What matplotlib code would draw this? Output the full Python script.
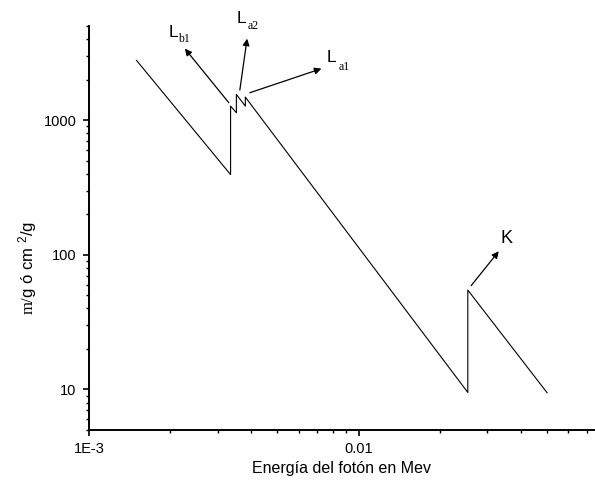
import matplotlib
matplotlib.use("Agg")
import matplotlib.pyplot as plt
from matplotlib.ticker import LogLocator, FixedLocator, FixedFormatter, NullFormatter

plt.rcParams['font.family'] = ['Liberation Sans', 'DejaVu Sans']
plt.rcParams['mathtext.fontset'] = 'custom'
plt.rcParams['mathtext.rm'] = 'Liberation Serif'
plt.rcParams['mathtext.sf'] = 'Liberation Sans'
plt.rcParams['mathtext.it'] = 'Liberation Sans'

# photon energy (MeV) and mass attenuation coefficient (cm^2/g)
energy = [0.0015, 0.00335, 0.00335, 0.00352, 0.00352, 0.00380, 0.00380, 0.0254, 0.0254, 0.050]
mu_rho = [2780, 394, 1271, 1135, 1553, 1271, 1483, 9.5, 54.7, 9.45]

# edge labels: main text, subscript, arrow tail, arrow head, text position, subscript position
edge_main = ["L", "L", "L", "K"]
edge_sub = ["b1", "a2", "a1", ""]
arrow_tail = [(0.003301, 1346), (0.003625, 1671), (0.003948, 1598), (0.02614, 59.0)]
arrow_head = [(0.002268, 3396), (0.003857, 4029), (0.007276, 2412), (0.03308, 106.2)]
text_pos = [(0.002064, 4487), (0.003687, 5703), (0.007943, 2901), (0.03548, 133)]
sub_pos = [(0.002249, 3981), (0.00405, 4972), (0.00887, 2465), None]

fig = plt.figure(figsize=(5.95, 4.82), dpi=100)
ax = fig.add_axes([0.1496, 0.1079, 0.8484, 0.8381])

ax.plot(energy, mu_rho, color='black', lw=0.8)

ax.set_xscale('log')
ax.set_yscale('log')
ax.set_xlim(1e-3, 0.0745)
ax.set_ylim(5, 5000)

ax.spines['top'].set_visible(False)
ax.spines['right'].set_visible(False)
for s in ('left', 'bottom'):
    ax.spines[s].set_linewidth(1.4)

ax.xaxis.set_major_locator(FixedLocator([1e-3, 1e-2]))
ax.xaxis.set_major_formatter(FixedFormatter(["1E-3", "0.01"]))
ax.xaxis.set_minor_locator(LogLocator(base=10, subs=range(2, 10)))
ax.xaxis.set_minor_formatter(NullFormatter())
ax.yaxis.set_major_locator(FixedLocator([10, 100, 1000]))
ax.yaxis.set_major_formatter(FixedFormatter(["10", "100", "1000"]))
ax.yaxis.set_minor_locator(LogLocator(base=10, subs=range(2, 10)))
ax.yaxis.set_minor_formatter(NullFormatter())

ax.tick_params(which='major', direction='out', length=4, width=1.2, labelsize=10.5, pad=5)
ax.tick_params(which='minor', direction='out', length=2.3, width=1.0)

ax.set_xlabel("Energía del fotón en Mev", fontsize=11.5, labelpad=3)
ax.set_ylabel(r"$\mathrm{m/}$g ó cm $^{\mathsf{2}}$/g", fontsize=12)
ax.yaxis.set_label_coords(-0.10, 0.40)

for i in range(len(edge_main)):
    ax.annotate("", xy=arrow_head[i], xytext=arrow_tail[i],
                arrowprops=dict(arrowstyle='-|>', color='black', lw=0.9, mutation_scale=10,
                                shrinkA=0, shrinkB=0))
    size = 13 if edge_main[i] == "K" else 12.5
    ax.text(*text_pos[i], edge_main[i], fontsize=size, ha='center', va='center')
    if sub_pos[i] is not None:
        ax.text(*sub_pos[i], edge_sub[i], fontsize=8.5, family='Liberation Serif',
                ha='center', va='center')

fig.savefig("out.png", dpi=100)
